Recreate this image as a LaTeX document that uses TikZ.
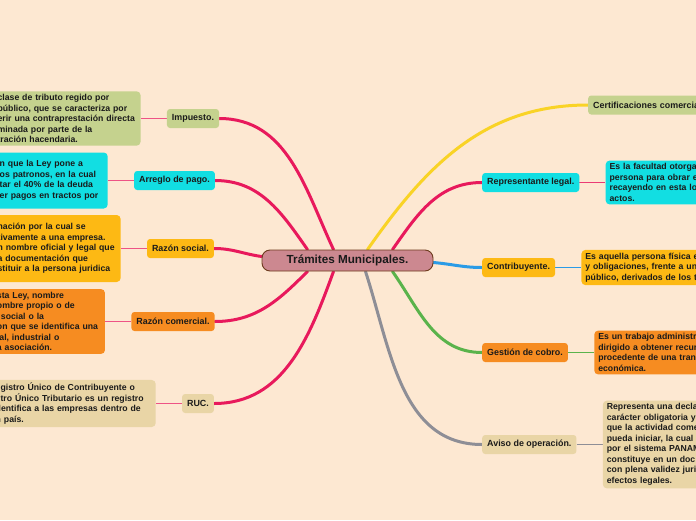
\documentclass[tikz,border=0pt]{standalone}
\usepackage{fontspec}
\setmainfont{Liberation Sans}
\usetikzlibrary{positioning}
\definecolor{paper}{HTML}{FDE8D2}
\definecolor{ink}{HTML}{1A1A1A}
\definecolor{crimson}{HTML}{E8195C}
\definecolor{sun}{HTML}{F9D326}
\definecolor{sky}{HTML}{2A9BE6}
\definecolor{leaf}{HTML}{5AB34B}
\definecolor{stone}{HTML}{8E8E96}
\definecolor{sage}{HTML}{C5D28E}
\definecolor{aqua}{HTML}{12DEE2}
\definecolor{amber}{HTML}{FDB914}
\definecolor{tangerine}{HTML}{F68C21}
\definecolor{sand}{HTML}{E9D5A6}
\definecolor{rosewood}{HTML}{CC8890}
\definecolor{bark}{HTML}{6E3B1E}
\pgfdeclarelayer{paperlayer}
\pgfdeclarelayer{linklayer}
\pgfsetlayers{paperlayer,linklayer,main}

\begin{document}
\begin{tikzpicture}[x=1pt, y=1pt,
  hub/.style={rectangle, draw=bark, line width=0.9pt, fill=rosewood, minimum width=171pt, minimum height=21pt, rounded corners=8pt, text=ink, font=\fontsize{11.7}{14}\selectfont\bfseries},
  topic/.style={rectangle, minimum height=19pt, inner xsep=5pt, rounded corners=3pt, text=ink, font=\fontsize{8.9}{10.5}\selectfont\bfseries},
  note/.style={rectangle, inner xsep=4pt, inner ysep=3pt, rounded corners=4pt, align=left, text=ink, font=\fontsize{8.7}{10.5}\selectfont\bfseries},
  branch/.style={line width=3pt, line cap=round},
  twig/.style={line width=1.3pt},
  node distance=26pt,
]
  \useasboundingbox (0,0) rectangle (696,-520);
  \node[hub] (tm) at (347.5,-260.5) {Trámites Municipales.};
  % left side
  \node[topic, fill=sage] (imp) at (193,-118.5) {Impuesto.};
  \node[topic, fill=aqua] (arr) at (174.5,-180.5) {Arreglo de pago.};
  \node[topic, fill=amber] (rsoc) at (180.5,-248.5) {Razón social.};
  \node[topic, fill=tangerine] (rcom) at (173,-321.5) {Razón comercial.};
  \node[topic, fill=sand] (ruc) at (198,-403.5) {RUC.};
  \node[note, fill=sage, left=of imp, text width=139pt] (impnote) {\mbox{clase de tributo regido por}\\ \mbox{público, que se caracteriza por}\\ \mbox{erir una contraprestación directa}\\ \mbox{minada por parte de la}\\ \mbox{tración hacendaria.}};
  \node[note, fill=aqua, left=of arr, text width=104pt, minimum height=56pt] (arrnote) {\mbox{n que la Ley pone a}\\ \mbox{os patronos, en la cual}\\ \mbox{tar el 40\% de la deuda}\\ \mbox{er pagos en tractos por}};
  \node[note, fill=amber, left=of rsoc, text width=119pt, minimum height=67pt] (rsocnote) {\mbox{nación por la cual se}\\ \mbox{tivamente a una empresa.}\\ \mbox{n nombre oficial y legal que}\\ \mbox{a documentación que}\\ \mbox{stituir a la persona juridica}};
  \node[note, fill=tangerine, left=of rcom, text width=104pt] (rcomnote) {\mbox{sta Ley, nombre}\\ \mbox{ombre propio o de}\\ \hspace*{4pt}\mbox{social o la}\\ \mbox{on que se identifica una}\\ \mbox{ial, industrial o}\\ \mbox{a asociación.}};
  \node[note, fill=sand, left=of ruc, text width=156pt] (rucnote) {\mbox{egistro Único de Contribuyente o}\\ \mbox{stro Único Tributario es un registro}\\ \mbox{dentifica a las empresas dentro de}\\ \mbox{n país.}};
  % right side
  \node[topic, fill=sage, anchor=west, text width=130pt, align=left] (cert) at (588,-105) {Certificaciones comercia};
  \node[topic, fill=aqua, anchor=west] (rep) at (482,-182.5) {Representante legal.};
  \node[topic, fill=amber, anchor=west] (contr) at (482,-267.5) {Contribuyente.};
  \node[topic, fill=tangerine, anchor=west] (gest) at (482,-352.5) {Gestión de cobro.};
  \node[topic, fill=sand, anchor=west] (aviso) at (482,-444.5) {Aviso de operación.};
  \node[note, fill=aqua, right=of rep, text width=150pt] (repnote) {Es la facultad otorga\\ persona para obrar e\\ recayendo en esta lo\\ actos.};
  \node[note, fill=amber, right=of contr, text width=150pt] (contrnote) {Es aquella persona física e\\ y obligaciones, frente a un\\ público, derivados de los t};
  \node[note, fill=tangerine, right=of gest, text width=150pt] (gestnote) {Es un trabajo administr\\ dirigido a obtener recur\\ procedente de una tran\\ económica.};
  \node[note, fill=sand, right=of aviso, text width=150pt] (avisonote) {Representa una decla\\ carácter obligatoria y\\ que la actividad come\\ pueda iniciar, la cual\\ por el sistema PANAM\\ constituye en un doc\\ con plena validez juri\\ efectos legales.};
  \begin{pgfonlayer}{paperlayer}
    \fill[paper] (0,0) rectangle (696,-520);
  \end{pgfonlayer}
  \begin{pgfonlayer}{linklayer}
    % branches from the hub
    \draw[branch, crimson] ([xshift=-14pt]tm.north) to[out=115, in=0] (imp.east);
    \draw[branch, crimson] ([xshift=-40pt]tm.north) to[out=125, in=0] (arr.east);
    \draw[branch, crimson] ([yshift=4pt]tm.west) to[out=172, in=0] (rsoc.east);
    \draw[branch, crimson] ([xshift=-40pt]tm.south) to[out=225, in=0] (rcom.east);
    \draw[branch, crimson] ([xshift=-14pt]tm.south) to[out=250, in=0] (ruc.east);
    \draw[branch, sun] ([xshift=20pt]tm.north) to[out=55, in=180] (cert.west);
    \draw[branch, crimson] ([xshift=45pt]tm.north) to[out=55, in=180] (rep.west);
    \draw[branch, sky] ([yshift=-2pt]tm.east) to[out=-5, in=180] (contr.west);
    \draw[branch, leaf] ([xshift=45pt]tm.south) to[out=-55, in=180] (gest.west);
    \draw[branch, stone] ([xshift=18pt]tm.south) to[out=-72, in=180] (aviso.west);
    % twigs to the notes
    \draw[twig, crimson!75] (imp.west) -- (impnote.east);
    \draw[twig, crimson!75] (arr.west) -- (arrnote.east);
    \draw[twig, crimson!75] (rsoc.west) -- (rsocnote.east);
    \draw[twig, crimson!75] (rcom.west) -- (rcomnote.east);
    \draw[twig, crimson!75] (ruc.west) -- (rucnote.east);
    \draw[twig, crimson!85] (rep.east) -- (repnote.west);
    \draw[twig, sky] (contr.east) -- (contrnote.west);
    \draw[twig, leaf] (gest.east) -- (gestnote.west);
    \draw[twig, stone] (aviso.east) -- (avisonote.west);
  \end{pgfonlayer}
\end{tikzpicture}
\end{document}
